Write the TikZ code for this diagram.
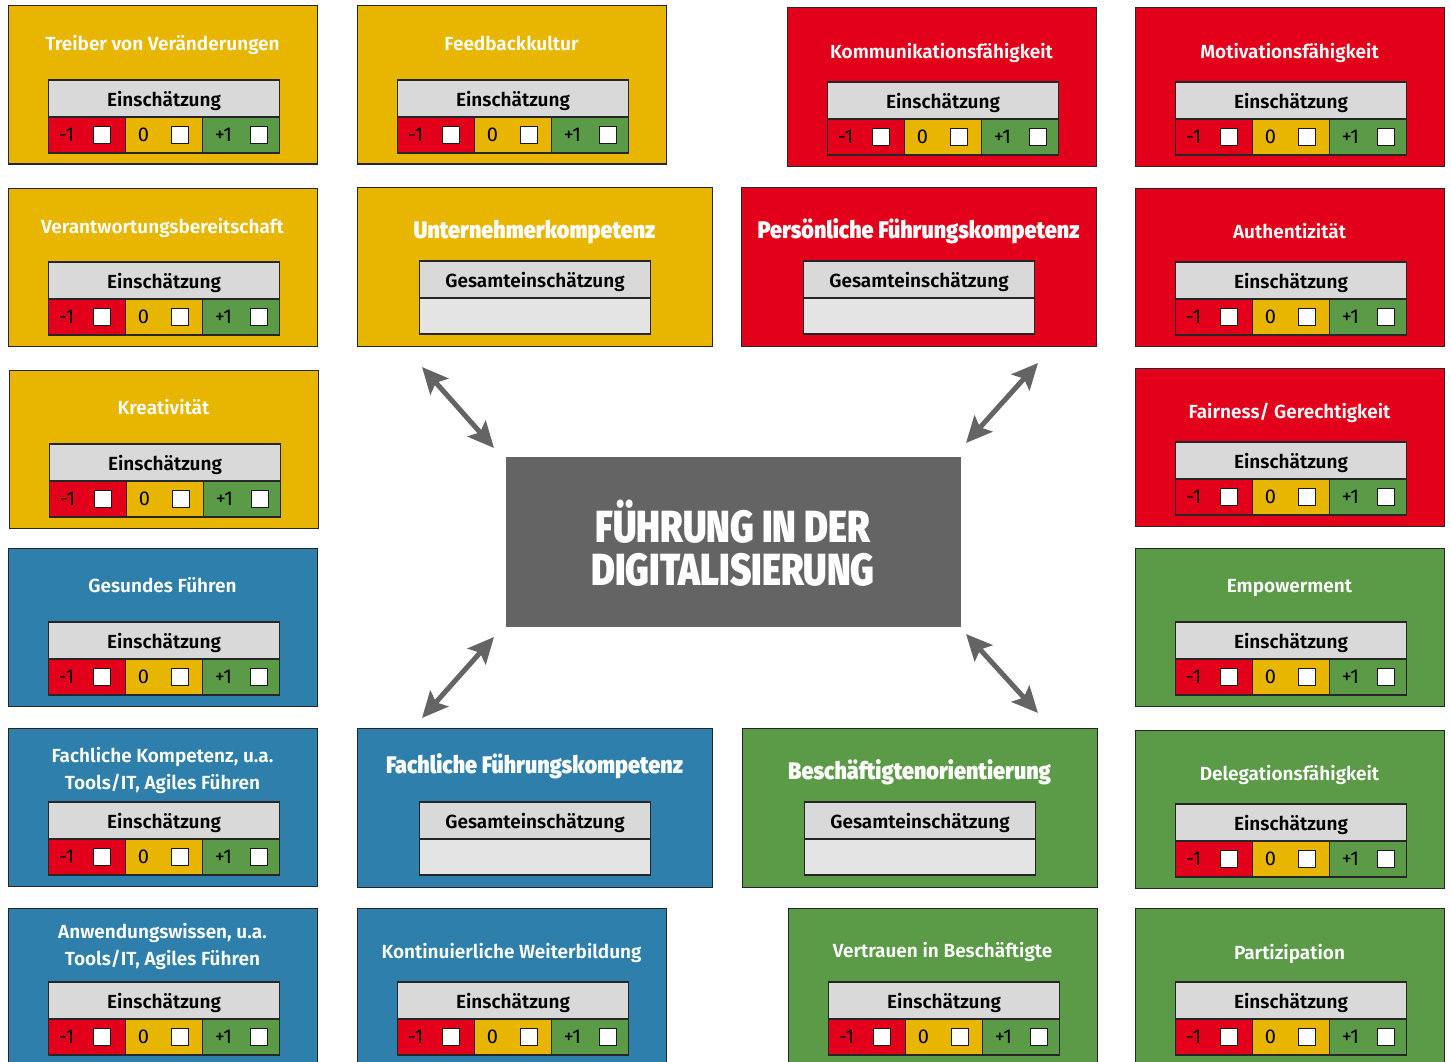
\documentclass[tikz,border=0pt]{standalone}
\usepackage{fontspec}
\setmainfont{Fira Sans}
\newfontfamily\ftitle{Fira Sans SemiBold}
\newfontfamily\fheavy{Fira Sans Black}[FakeStretch=0.9]
\newfontfamily\fcenter{Fira Sans Black}[FakeStretch=0.81]
\usetikzlibrary{calc,arrows.meta}
\definecolor{cyel}{HTML}{E8B500}
\definecolor{cred}{HTML}{E2001A}
\definecolor{cblu}{HTML}{2E7FAB}
\definecolor{cgrn}{HTML}{5B9A47}
\definecolor{cgray}{HTML}{646464}
\definecolor{chdr}{HTML}{D9D9D9}
\definecolor{cempty}{HTML}{E4E4E4}
\tikzset{
  outerbox/.style={draw=black!85, line width=1pt, anchor=north west, inner sep=0pt, outer sep=0pt, minimum height=158pt},
  ttl/.style={text=white, font=\ftitle\fontsize{19}{27}\selectfont, align=center, inner sep=0pt, text depth=0pt},
  httl/.style={text=white, font=\fheavy\fontsize{24}{28}\selectfont, align=center, inner sep=0pt, text depth=0pt},
  hdr/.style={draw=black!85, line width=1.3pt, fill=chdr, anchor=north west, inner sep=0pt, outer sep=0pt, minimum width=231pt, minimum height=37pt, text depth=0pt, font=\ftitle\fontsize{19}{22}\selectfont},
  cell/.style={draw=black!85, line width=1.3pt, anchor=north west, inner sep=0pt, outer sep=0pt, minimum width=77pt, minimum height=36pt},
  lbl/.style={inner sep=0pt, font=\fontsize{20}{22}\selectfont},
  chk/.style={draw=black!90, line width=1pt, fill=white, inner sep=0pt, minimum size=17pt},
  arr/.style={draw=cgray, line width=5pt, {Stealth[length=26pt,width=24pt,inset=5pt]}-{Stealth[length=26pt,width=24pt,inset=5pt]}},
}
% rating table
\newcommand\rtab[1]{%
  \node[hdr] (#1h) at ($(#1.north west)+(40.5,74)$) {Einschätzung};
  \node[cell, fill=cred] (#1c1) at (#1h.south west) {};
  \node[cell, fill=cyel] (#1c2) at (#1c1.north east) {};
  \node[cell, fill=cgrn] (#1c3) at (#1c2.north east) {};
  \node[lbl] (#1l1) at ([xshift=18]#1c1.west) {-1};
  \node[lbl] (#1l2) at ([xshift=18]#1c2.west) {0};
  \node[lbl] (#1l3) at ([xshift=21]#1c3.west) {+1};
  \node[chk] (#1k1) at ([xshift=53]#1c1.west) {};
  \node[chk] (#1k2) at ([xshift=54]#1c2.west) {};
  \node[chk] (#1k3) at ([xshift=56]#1c3.west) {};
}
% name, colour, x, y, title offset, title
\newcommand\rbox[6]{%
  \node[outerbox, fill=#2, minimum width=309pt] (#1) at (#3,#4) {};
  \node[ttl] (#1t) at ($(#1.north)+(0,#5)$) {#6};
  \rtab{#1}%
}
\newcommand\gbox[6]{%
  \node[outerbox, fill=#2, minimum width=355pt, minimum height=159pt] (#1) at (#3,#4) {};
  \node[httl] (#1t) at ($(#1.north)+(0,#5)$) {#6};
  \node[hdr] (#1h) at ($(#1.north west)+(62.5,74)$) {Gesamteinschätzung};
  \node[cell, fill=cempty, minimum width=231pt] (#1e) at (#1h.south west) {};
}
\begin{document}
\begin{tikzpicture}[x=1pt,y=-1pt]
\useasboundingbox (0,0) rectangle (1451,1062);
\clip (0,0) rectangle (1451,1062);
% column 1
\rbox{b1}{cyel}{8}{6}{37}{Treiber von Veränderungen}
\rbox{b2}{cyel}{8}{188}{38}{Verantwortungsbereitschaft}
\rbox{b3}{cyel}{9}{370}{37}{Kreativität}
\rbox{b4}{cblu}{8}{548}{37}{Gesundes Führen}
\rbox{b5}{cblu}{8}{728}{40}{Fachliche Kompetenz, u.a.\\Tools/IT, Agiles Führen}
\rbox{b6}{cblu}{8}{908}{36}{Anwendungswissen, u.a.\\Tools/IT, Agiles Führen}
% column 2
\rbox{f1}{cyel}{357}{6}{37}{Feedbackkultur}
\gbox{g1}{cyel}{357}{187}{42}{Unternehmerkompetenz}
\gbox{g3}{cblu}{357}{728}{36}{Fachliche Führungskompetenz}
\rbox{f2}{cblu}{357}{908}{43}{Kontinuierliche Weiterbildung}
% column 3
\rbox{k1}{cred}{787}{8}{43}{Kommunikationsfähigkeit}
\gbox{g2}{cred}{741}{187}{42}{Persönliche Führungskompetenz}
\gbox{g4}{cgrn}{742}{728}{42}{Beschäftigtenorientierung}
\rbox{k2}{cgrn}{788}{908}{42}{Vertrauen in Beschäftigte}
% column 4
\rbox{m1}{cred}{1135}{8}{43}{Motivationsfähigkeit}
\rbox{m2}{cred}{1135}{188}{43}{Authentizität}
\rbox{m3}{cred}{1135}{368}{43}{Fairness/ Gerechtigkeit}
\rbox{m4}{cgrn}{1135}{548}{38}{Empowerment}
\rbox{m5}{cgrn}{1135}{730}{43}{Delegationsfähigkeit}
\rbox{m6}{cgrn}{1135}{908}{44}{Partizipation}
% centre
\node[fill=cgray, anchor=north west, minimum width=455pt, minimum height=170pt, inner sep=0pt] (c) at (506,457) {};
\node[text=white, font=\fcenter\fontsize{45}{43}\selectfont, align=center, inner sep=0pt] (ct) at (733,543) {FÜHRUNG IN DER\\DIGITALISIERUNG};
% arrows
\coordinate (a1s) at (422,367);
\coordinate (a1e) at (494,448);
\coordinate (a2s) at (1038,363);
\coordinate (a2e) at (966,443);
\coordinate (a3s) at (494,637);
\coordinate (a3e) at (422,718);
\coordinate (a4s) at (966,634);
\coordinate (a4e) at (1038,713);
\draw[arr] (a1s) -- (a1e);
\draw[arr] (a2s) -- (a2e);
\draw[arr] (a3s) -- (a3e);
\draw[arr] (a4s) -- (a4e);
\end{tikzpicture}
\end{document}
